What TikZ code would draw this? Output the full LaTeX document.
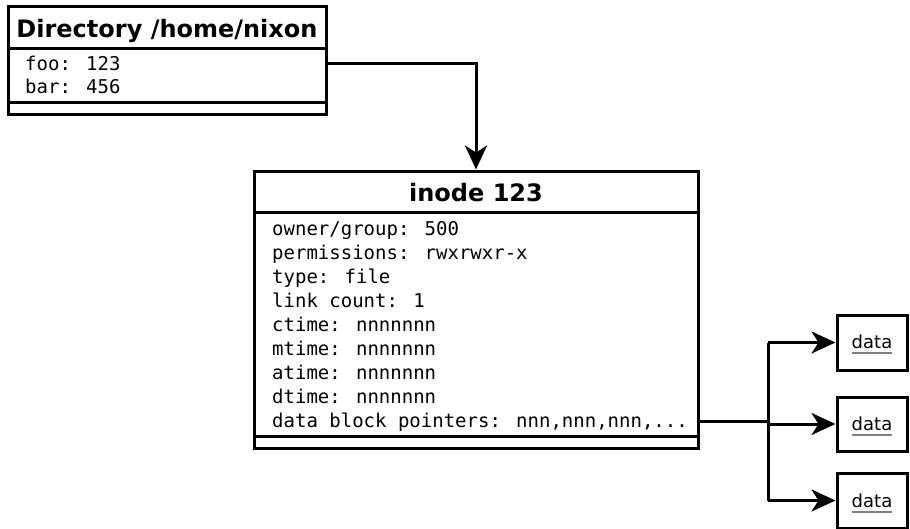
\documentclass[tikz,border=0pt]{standalone}
\usepackage{fontspec}
\setmainfont{DejaVu Sans}
\newfontfamily\monof{DejaVu Sans Mono}
\usetikzlibrary{arrows.meta}
\begin{document}
\begin{tikzpicture}[x=1pt,y=-1pt,
  box/.style={draw,line width=3pt,inner sep=0pt},
  sep/.style={line width=3pt},
  ttl/.style={font=\fontsize{24}{28}\selectfont\bfseries,anchor=base,inner sep=0pt},
  mono/.style={font=\monof\fontsize{19}{23}\selectfont,anchor=base west,inner sep=0pt},
  dtxt/.style={font=\fontsize{18}{22}\selectfont,anchor=base,inner sep=0pt},
  conn/.style={line width=3pt},
  arr/.style={line width=3pt,-{Stealth[length=24pt,width=22pt,inset=7pt]}},
  uline/.style={draw=gray,line width=1.8pt}]
\useasboundingbox (0,0) rectangle (910,528);
\begin{scope}
\clip (0,0) rectangle (910,528);
% Directory box
\node[box,minimum width=318pt,minimum height=108pt] (dir) at (167,60) {};
\draw[sep] (dir.west |- 0,48) -- (dir.east |- 0,48);
\draw[sep] (dir.west |- 0,102) -- (dir.east |- 0,102);
\node[ttl] (dirt) at (167,37) {Directory /home/nixon};
\node[mono] (foo) at (25,70) {foo: 123};
\node[mono] (bar) at (25,93) {bar: 456};
% inode box
\node[box,minimum width=444pt,minimum height=277pt] (ino) at (476,309.5) {};
\draw[sep] (ino.west |- 0,212) -- (ino.east |- 0,212);
\draw[sep] (ino.west |- 0,436) -- (ino.east |- 0,436);
\node[ttl] (inot) at (476,201) {inode 123};
\node[mono] (l1) at (272,235) {owner/group: 500};
\node[mono] (l2) at (272,259) {permissions: rwxrwxr-x};
\node[mono] (l3) at (272,283) {type: file};
\node[mono] (l4) at (272,307) {link count: 1};
\node[mono] (l5) at (272,331) {ctime: nnnnnnn};
\node[mono] (l6) at (272,355) {mtime: nnnnnnn};
\node[mono] (l7) at (272,379) {atime: nnnnnnn};
\node[mono] (l8) at (272,403) {dtime: nnnnnnn};
\node[mono] (ptr) at (272,427) {data block pointers: nnn,nnn,nnn,...};
% data boxes
\node[box,minimum width=70pt,minimum height=55pt] (d1) at (872,342.5) {};
\node[box,minimum width=70pt,minimum height=54pt] (d2) at (872,424) {};
\node[box,minimum width=70pt,minimum height=55pt] (d3) at (872,500.5) {};
\node[dtxt] (t1) at (872,348) {data};
\node[dtxt] (t2) at (872,430) {data};
\node[dtxt] (t3) at (872,507) {data};
\draw[uline] ([yshift=-5pt]t1.base west) -- ([yshift=-5pt]t1.base east);
\draw[uline] ([yshift=-5pt]t2.base west) -- ([yshift=-5pt]t2.base east);
\draw[uline] ([yshift=-5pt]t3.base west) -- ([yshift=-5pt]t3.base east);
% connectors
\coordinate (dirout) at (dir.east |- 0,63);
\draw[arr] (dirout) -| (ino.north);
\coordinate (ptrout) at (ino.east |- 0,421);
\coordinate (junc) at (768,421);
\draw[conn] (ptrout) -- (junc);
\draw[conn] (junc |- d1.west) -- (junc |- d3.west);
\draw[arr] (junc |- d1.west) -- (d1.west);
\draw[arr] (junc |- d2.west) -- (d2.west);
\draw[arr] (junc |- d3.west) -- (d3.west);
\end{scope}
\end{tikzpicture}
\end{document}
